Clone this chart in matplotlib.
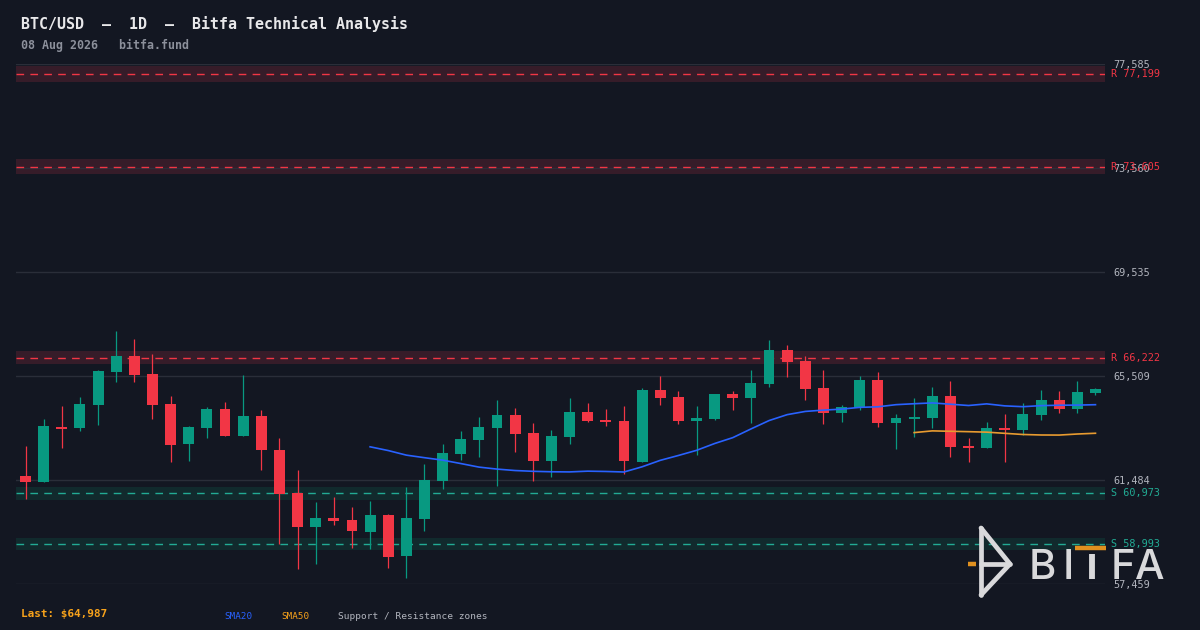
import numpy as np
import pandas as pd
import matplotlib
matplotlib.use("Agg")
import matplotlib.pyplot as plt

# daily candles
opens = [61639, 61407, 63535, 63497, 64387, 65664, 66284, 65587, 64426, 62878,
         63497, 64232, 63187, 63961, 62645, 60969, 59677, 60013, 59936, 59483,
         60129, 58555, 59974, 61458, 62503, 63045, 63507, 63999, 63303, 62232,
         63148, 64116, 63806, 63767, 62193, 64968, 64697, 63779, 63857, 64813,
         64670, 65211, 66516, 66090, 65045, 64090, 64283, 65355, 63702, 63845,
         63896, 64736, 62800, 62723, 63497, 63419, 63999, 64581, 64232, 64851]
highs = [62800, 63845, 64348, 64697, 65742, 67251, 66941, 66361, 64736, 63574,
         64310, 64503, 65548, 64194, 63109, 61871, 60633, 60826, 60439, 60672,
         60168, 61213, 62104, 62877, 63381, 63922, 64581, 64271, 63690, 63419,
         64658, 64464, 64232, 64348, 65045, 65509, 64929, 64348, 64813, 64929,
         65742, 66903, 66710, 66284, 65742, 64387, 65509, 65664, 64039, 64658,
         65084, 65316, 63109, 63729, 64039, 64464, 64968, 64929, 65316, 65045]
lows = [60749, 61407, 62734, 63393, 63613, 65277, 65277, 63845, 62181, 62220,
        63109, 63187, 63187, 61871, 59007, 58051, 58245, 59754, 58864, 58825,
        58089, 57703, 59522, 61148, 62271, 62375, 61264, 62581, 61458, 61612,
        62889, 63729, 63574, 61728, 62193, 64399, 63663, 62465, 63818, 64205,
        63702, 65095, 65482, 64592, 63663, 63741, 64205, 63547, 62696, 63161,
        63509, 62387, 62193, 62723, 62193, 63226, 63806, 64078, 64078, 64774]
closes = [61407, 63574, 63458, 64426, 65703, 66284, 65548, 64387, 62839, 63535,
          64232, 63187, 63961, 62645, 60942, 59677, 60013, 59909, 59522, 60129,
          58516, 60013, 61484, 62529, 63071, 63535, 63999, 63275, 62232, 63187,
          64116, 63767, 63729, 62232, 64968, 64670, 63779, 63884, 64813, 64670,
          65238, 66516, 66063, 65018, 64090, 64310, 65355, 63702, 63884, 63922,
          64736, 62774, 62723, 63497, 63419, 64039, 64581, 64232, 64890, 64987]

resistance = [77199, 73605, 66222]
support = [60973, 58993]
y_lo, y_hi = 57459, 77585

BG = "#131722"
UP, DOWN = "#089981", "#f23645"
MONO = "DejaVu Sans Mono"

df = pd.DataFrame({"o": opens, "h": highs, "l": lows, "c": closes})
df["sma20"] = df["c"].rolling(20).mean()
df["sma50"] = df["c"].rolling(50).mean()
x = np.arange(len(df))

fig = plt.figure(figsize=(12, 6.3), dpi=100, facecolor=BG)
ax = fig.add_axes([16 / 1200, 1 - 584 / 630, 1089 / 1200, 520 / 630])
ax.set_facecolor(BG)

# zones
for lvl in resistance:
    ax.axhspan(lvl * 0.996, lvl * 1.004, color="#361c29", lw=0, zorder=1)
    ax.axhline(lvl, color=DOWN, lw=1.0, ls=(0, (5.5, 4.5)), zorder=2)
for lvl in support:
    ax.axhspan(lvl * 0.996, lvl * 1.004, color="#112a2d", lw=0, zorder=1)
    ax.axhline(lvl, color="#22ab94", lw=1.0, ls=(0, (5.5, 4.5)), zorder=2)

# candles
col = np.where(df["c"] >= df["o"], UP, DOWN)
ax.vlines(x, df["l"], df["h"], colors=col, lw=0.9, zorder=3)
body_lo = np.minimum(df["o"], df["c"])
body_h = np.maximum(np.abs(df["c"] - df["o"]), 45)
ax.bar(x, body_h, bottom=body_lo, width=0.6, color=col, lw=0, zorder=4)

ax.plot(x, df["sma20"], color="#2962ff", lw=1.2, zorder=5)
ax.plot(x, df["sma50"], color="#e89b30", lw=1.2, zorder=5)

ax.set_xlim(-0.525, len(df) - 0.475)
ax.set_ylim(y_lo, y_hi)
ticks = np.linspace(y_lo, y_hi, 6)
ax.set_yticks(ticks)
ax.set_yticklabels([f"{t:,.0f}" for t in ticks])
ax.yaxis.tick_right()
ax.tick_params(axis="y", length=0, pad=6, labelcolor="#b2b5be", labelsize=7.3)
for lab in ax.get_yticklabels():
    lab.set_fontfamily(MONO)
ax.set_xticks([])
ax.grid(axis="y", color="#2a2e39", lw=1.0, zorder=0)
for s in ax.spines.values():
    s.set_visible(False)

tr = ax.get_yaxis_transform()
for lvl in resistance:
    ax.text(1.0055, lvl, f"R {lvl:,}", transform=tr, color=DOWN, fontsize=7.3,
            family=MONO, va="center", ha="left", clip_on=False)
for lvl in support:
    ax.text(1.0055, lvl, f"S {lvl:,}", transform=tr, color="#22ab94", fontsize=7.3,
            family=MONO, va="center", ha="left", clip_on=False)

# header / footer
fig.text(21 / 1200, 1 - 29 / 630, "BTC/USD  \u2013  1D  \u2013  Bitfa Technical Analysis",
         color="#e8e8ea", fontsize=10.8, fontweight="bold", family=MONO, va="baseline")
fig.text(21 / 1200, 1 - 49 / 630, "08 Aug 2026   bitfa.fund",
         color="#8c909b", fontsize=8.4, fontweight="bold", family=MONO, va="baseline")
fig.text(21 / 1200, 1 - 617 / 630, f"Last: ${closes[-1]:,}",
         color="#f7a21b", fontsize=7.9, fontweight="bold", family=MONO, va="baseline")
fig.text(224 / 1200, 1 - 619 / 630, "SMA20", color="#2962ff", fontsize=6.7, family=MONO, va="baseline")
fig.text(281 / 1200, 1 - 619 / 630, "SMA50", color="#f7a21b", fontsize=6.7, family=MONO, va="baseline")
fig.text(338 / 1200, 1 - 619 / 630, "Support / Resistance zones", color="#b2b5be",
         fontsize=6.8, family=MONO, va="baseline")

# watermark logo, pixel coordinates
lg = fig.add_axes([0, 0, 1, 1], zorder=10)
lg.set_xlim(0, 1200)
lg.set_ylim(630, 0)
lg.axis("off")
lg.patch.set_alpha(0)
LOGO = "#d9d9db"
kw = dict(color=LOGO, lw=3.4, solid_capstyle="round", solid_joinstyle="round")
lg.plot([981, 981], [528, 595], **kw)
lg.plot([981, 1010, 981], [528, 564, 595], **kw)
lg.plot([981, 1010], [564, 564], **kw)
lg.plot([968, 976], [564, 564], color="#e0901f", lw=3.2, solid_capstyle="butt")
for ch, px in [("B", 1029), ("I", 1063), ("F", 1111), ("A", 1135)]:
    lg.text(px, 579, ch, color=LOGO, fontsize=30, family="Inter", fontweight="medium",
            va="baseline", ha="left")
lg.plot([1092, 1092], [554, 579], color=LOGO, lw=4.2, solid_capstyle="butt")
lg.plot([1075, 1106], [548, 548], color="#e0901f", lw=3.2, solid_capstyle="butt")

fig.savefig("out.png", dpi=100, facecolor=BG)
